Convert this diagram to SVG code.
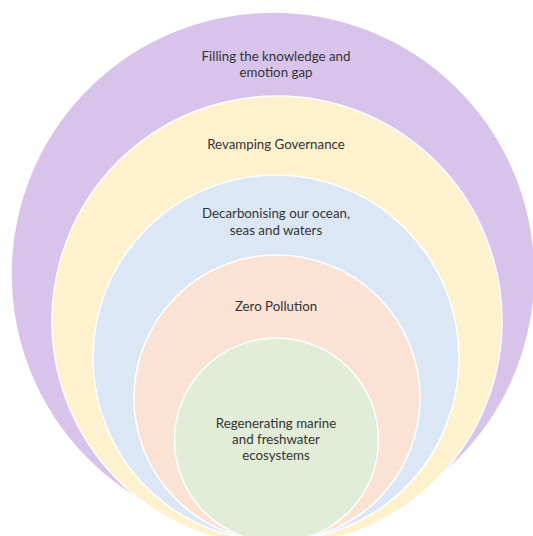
<svg xmlns="http://www.w3.org/2000/svg" width="533" height="536" viewBox="0 0 533 536">
<style>
.ring{stroke:#ffffff;stroke-width:1.5}
.lbl{font-family:"Lato","Liberation Sans",sans-serif;font-size:13.3px;fill:#333333;text-anchor:middle}
</style>
<rect width="533" height="536" fill="#ffffff"/>
<g id="node-knowledge">
<circle class="ring" cx="273" cy="274" r="262" fill="#D8C4EB"/>
<text class="lbl" x="276" y="61">Filling the knowledge and</text>
<text class="lbl" x="276" y="77">emotion gap</text>
</g>
<g id="node-governance">
<circle class="ring" cx="277" cy="321" r="225" fill="#FEF1CD"/>
<text class="lbl" x="276" y="149">Revamping Governance</text>
</g>
<g id="node-decarbonising">
<circle class="ring" cx="276" cy="358" r="183" fill="#DCE7F5"/>
<text class="lbl" x="276" y="218">Decarbonising our ocean,</text>
<text class="lbl" x="276" y="235">seas and waters</text>
</g>
<g id="node-pollution">
<circle class="ring" cx="277" cy="398" r="143" fill="#FAE2D5"/>
<text class="lbl" x="276" y="311">Zero Pollution</text>
</g>
<g id="node-regenerating">
<circle class="ring" cx="276.5" cy="440" r="102" fill="#E1EDD7"/>
<text class="lbl" x="276" y="428">Regenerating marine</text>
<text class="lbl" x="276" y="444">and freshwater</text>
<text class="lbl" x="276" y="460">ecosystems</text>
</g>
<g id="connectors"></g>
</svg>
